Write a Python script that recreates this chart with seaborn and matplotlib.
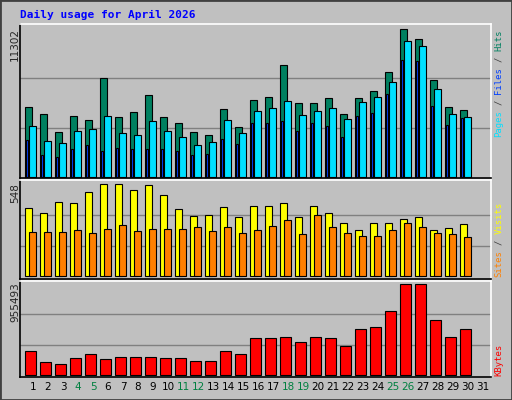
import numpy as np
import pandas as pd
import seaborn as sns
import matplotlib.pyplot as plt
from matplotlib.patches import Rectangle

days = list(range(1, 32))
hits = [5319, 4782, 3401, 4628, 4321, 7543, 4551, 4935, 6239, 4551, 4091, 3401, 3171, 5165, 3784,
        5856, 6086, 8540, 5625, 5625, 6009, 4782, 6009, 6546, 8003, 11302, 10535, 7390, 5319, 5088]
files = [3861, 2710, 2557, 3478, 3631, 4628, 3324, 3171, 4245, 3478, 3017, 2404, 2634, 4321, 3324,
         5012, 5242, 5779, 4705, 5012, 5242, 4398, 5702, 6086, 7236, 10381, 9998, 6699, 4782, 4551]
pages = [2787, 1636, 1483, 2097, 2404, 1943, 2173, 2097, 2097, 2097, 1943, 1636, 1713, 2864, 2480,
         4091, 4091, 4245, 3478, 4091, 3861, 3017, 4628, 4858, 6316, 8924, 8847, 5395, 3938, 4475]
visits = [405, 375, 441, 435, 500, 548, 548, 512, 542, 482, 399, 357, 363, 411, 351,
          417, 417, 435, 351, 417, 375, 316, 274, 316, 316, 340, 351, 274, 286, 310]
sites = [262, 262, 262, 274, 256, 280, 304, 268, 280, 280, 280, 292, 268, 292, 256,
         274, 298, 334, 250, 363, 292, 256, 238, 238, 274, 316, 292, 256, 250, 232]
kbytes = [251078, 136000, 115078, 177847, 219694, 167386, 188309, 188309, 188309, 177847,
          177847, 146462, 146462, 251078, 219694, 387079, 387079, 397541, 345233, 397541,
          387079, 303386, 481234, 502157, 669542, 955493, 955493, 575388, 397541, 481234]
weekend = [4, 5, 11, 12, 18, 19, 25, 26]

df = pd.DataFrame({"day": days[:30], "hits": hits, "files": files, "pages": pages,
                   "visits": visits, "sites": sites, "kbytes": kbytes})

sns.set_style("white")
plt.rcParams["font.family"] = ["DejaVu Sans Mono"]
BG = "#C0C0C0"

fig = plt.figure(figsize=(5.12, 4.0), dpi=100, facecolor=BG)
fig.patches.append(Rectangle((0, 0), 1, 1, transform=fig.transFigure, fill=False,
                             edgecolor="#404040", lw=2))

W = 471 / 512
ax1 = fig.add_axes([20 / 512, 0.555, W, 0.385])
ax2 = fig.add_axes([20 / 512, 0.3025, W, 0.2475])
ax3 = fig.add_axes([20 / 512, 0.0575, W, 0.24])

bw = 0.49
x = df["day"]
kw = dict(edgecolor="black", linewidth=0.8, align="edge")

ax1.bar(x - 0.667, df["hits"], width=bw, color="#008060", **kw)
ax1.bar(x - 0.6, df["pages"], width=0.15, color="#0040FF", **kw)
ax1.bar(x - 0.4, df["files"], width=bw, color="#00E0FF", **kw)
ax1.set_ylim(-100, 11708)
ax1.axhline(11302 / 3, color="#808080", lw=1, zorder=0)
ax1.axhline(11302 * 2 / 3, color="#808080", lw=1, zorder=0)

ax2.bar(x - 0.667, df["visits"], width=bw, color="#FFFF00", **kw)
ax2.bar(x - 0.4, df["sites"], width=bw, color="#FF8000", **kw)
ax2.set_ylim(-16, 573)
ax2.axhline(548 / 3, color="#808080", lw=1, zorder=0)
ax2.axhline(548 * 2 / 3, color="#808080", lw=1, zorder=0)

ax3.bar(x - 0.64, df["kbytes"], width=0.68, color="#FF0000", **kw)
ax3.set_ylim(-18000, 987000)
ax3.axhline(955493 / 3, color="#808080", lw=1, zorder=0)
ax3.axhline(955493 * 2 / 3, color="#808080", lw=1, zorder=0)

for ax in (ax1, ax2, ax3):
    ax.set_facecolor(BG)
    ax.set_xlim(0, 31.4)
    ax.set_xticks([])
    ax.set_yticks([])
    for s in ("top", "right"):
        ax.spines[s].set_color("white")
    for s in ("left", "bottom"):
        ax.spines[s].set_color("black")
    for s in ax.spines.values():
        s.set_linewidth(1.2)

# day labels
for d in days:
    ax3.text(d - 0.13, -0.1, str(d), transform=ax3.get_xaxis_transform(), ha="center", va="center",
             fontsize=7.5, family="DejaVu Sans", color="#008040" if d in weekend else "black")

fig.text(20 / 512, 1 - 15 / 400, "Daily usage for April 2026", color="#0000FF",
         fontsize=8, fontweight="bold", va="center", ha="left")

for label, ytop in (("11302", 28), ("548", 183), ("955493", 282)):
    fig.text(15 / 512, 1 - ytop / 400, label, rotation=90, ha="center", va="top",
             fontsize=7.5, family="DejaVu Sans")

FS = 6.4
CW = FS * 100 / 72 * 0.602


def right_label(parts, ybottom):
    y = ybottom
    for txt, col in parts:
        fig.text(499 / 512, 1 - y / 400, txt, rotation=90, ha="center", va="bottom",
                 fontsize=FS, color=col)
        y -= CW * len(txt)


right_label([("Pages", "#00E0FF"), ("/", "#404040", ), ("Files", "#0040FF"),
             ("/", "#404040"), ("Hits", "#008060")][:0] or
            [("Pages", "#00E0FF"), (" ", "#404040"), ("/", "#404040"), (" ", "#404040"),
             ("Files", "#0040FF"), (" ", "#404040"), ("/", "#404040"), (" ", "#404040"),
             ("Hits", "#008060")], 137)
right_label([("Sites", "#FF8000"), (" ", "#404040"), ("/", "#404040"), (" ", "#404040"),
             ("Visits", "#FFFF00")], 277)
right_label([("KBytes", "#FF0000")], 376)

fig.savefig("out.png", dpi=100, facecolor=BG)
